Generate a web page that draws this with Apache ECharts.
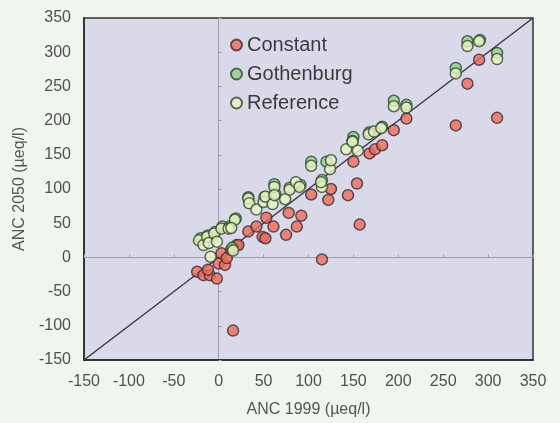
<!DOCTYPE html>
<html>
<head>
<meta charset="utf-8">
<script src="https://cdn.jsdelivr.net/npm/echarts@6/dist/echarts.min.js"></script>
<style>
html,body{margin:0;padding:0;background:#eef6ee;}
#chart{width:560px;height:423px;}
</style>
</head>
<body>
<div id="chart"></div>
<script>
var xTicks = [-150, -100, -50, 0, 50, 100, 150, 200, 250, 300, 350];
var yTicks = [-150, -100, -50, 0, 50, 100, 150, 200, 250, 300, 350];

var constantData = [
  [-24,-21],[-17,-26],[-10,-26],[-2,-31],[-12,-18],[0,-9],[7,-11],[3,6],[9,-1],[14,11],
  [20,18],[16,-107],[22,18],[33,38],[42,45],[49,30],[52,28],[53,58],[61,45],[75,33],
  [78,65],[87,45],[92,61],[103,92],[115,-3],[122,84],[125,100],[144,91],[150,140],[154,108],
  [157,48],[168,152],[174,158],[182,164],[195,186],[209,203],[264,193],[277,254],[290,289],[310,204]
];
var gothenburgData = [
  [-20,28],[-12,32],[-4,37],[4,45],[12,45],[19,57],[15,14],[33,88],[51,88],[62,107],
  [63,93],[79,102],[91,106],[103,140],[115,113],[120,140],[150,176],[149,170],[168,183],[182,191],
  [195,229],[209,223],[264,277],[277,316],[291,318],[310,299]
];
var referenceData = [
  [-22,25],[-17,18],[-13,30],[-11,21],[-5,35],[-2,23],[-9,1],[3,42],[11,42],[18,55],
  [16,10],[14,43],[33,86],[34,79],[42,70],[50,81],[52,89],[60,78],[62,103],[62,91],
  [74,85],[79,99],[86,110],[90,103],[103,134],[115,103],[114,110],[124,129],[125,142],[142,158],
  [149,169],[155,156],[167,180],[173,184],[181,189],[195,221],[209,219],[264,269],[277,309],[290,316],[310,290]
];
var diagonal = [[-150,-150],[350,350]];

var chart = echarts.init(document.getElementById('chart'));
var font = 'Liberation Sans, Arial, sans-serif';
var axisCommon = {
  type: 'value', min: -150, max: 350, interval: 50,
  splitLine: {show: false},
  axisTick: {show: false},
};
chart.setOption({
  backgroundColor: '#eef6ee',
  animation: false,
  textStyle: {fontFamily: font},
  grid: {left: 84, right: 27, top: 18, bottom: 63, show: true,
         backgroundColor: '#d9d9ea', borderColor: '#333', borderWidth: 1.5},
  legend: {
    orient: 'vertical', left: 225, top: 30, itemGap: 9,
    itemWidth: 11, itemHeight: 11, itemTextGap: 6, icon: 'circle',
    textStyle: {fontSize: 20, color: '#3a3a3a', fontFamily: font, lineHeight: 20},
    data: ['Constant', 'Gothenburg', 'Reference']
  },
  xAxis: [
    Object.assign({}, axisCommon, {
      position: 'bottom',
      name: 'ANC 1999 (µeq/l)', nameLocation: 'middle', nameGap: 42,
      nameTextStyle: {fontSize: 16, color: '#555', fontFamily: font},
      axisLine: {onZero: false, lineStyle: {color: '#333', width: 2}},
      axisLabel: {fontSize: 16, color: '#505050', margin: 14,
        formatter: function(v){ return xTicks.indexOf(v) >= 0 ? String(v) : ''; }}
    }),
    Object.assign({}, axisCommon, {
      position: 'bottom',
      axisLine: {onZero: true, onZeroAxisIndex: 0, lineStyle: {color: '#9d9db3', width: 1}},
      axisTick: {show: true, inside: true, length: 3, lineStyle: {color: '#9d9db3'}},
      axisLabel: {show: false}
    })
  ],
  yAxis: [
    Object.assign({}, axisCommon, {
      position: 'left',
      name: 'ANC 2050 (µeq/l)', nameLocation: 'middle', nameGap: 55,
      nameTextStyle: {fontSize: 16, color: '#555', fontFamily: font},
      axisLine: {onZero: false, lineStyle: {color: '#333', width: 2}},
      axisLabel: {fontSize: 16, color: '#505050', margin: 13,
        formatter: function(v){ return yTicks.indexOf(v) >= 0 ? String(v) : ''; }}
    }),
    Object.assign({}, axisCommon, {
      position: 'left',
      axisLine: {onZero: true, onZeroAxisIndex: 0, lineStyle: {color: '#9d9db3', width: 1}},
      axisTick: {show: true, inside: true, length: 3, lineStyle: {color: '#9d9db3'}},
      axisLabel: {show: false}
    })
  ],
  series: [
    {
      type: 'line', data: diagonal, xAxisIndex: 0, yAxisIndex: 0,
      showSymbol: false, symbol: 'none', silent: true,
      lineStyle: {color: '#3a3a44', width: 1.5}, z: 3
    },
    {
      name: 'Constant', type: 'scatter', data: constantData, symbolSize: 11,
      itemStyle: {color: '#ef6b55', borderColor: '#3a2e3a', borderWidth: 1.5}, z: 4
    },
    {
      name: 'Gothenburg', type: 'scatter', data: gothenburgData, symbolSize: 11,
      itemStyle: {color: '#93d08a', borderColor: '#2f4a30', borderWidth: 1.5}, z: 4
    },
    {
      name: 'Reference', type: 'scatter', data: referenceData, symbolSize: 11,
      itemStyle: {color: '#e8f4bf', borderColor: '#2f4a30', borderWidth: 1.5}, z: 4
    }
  ]
});
</script>
</body>
</html>
